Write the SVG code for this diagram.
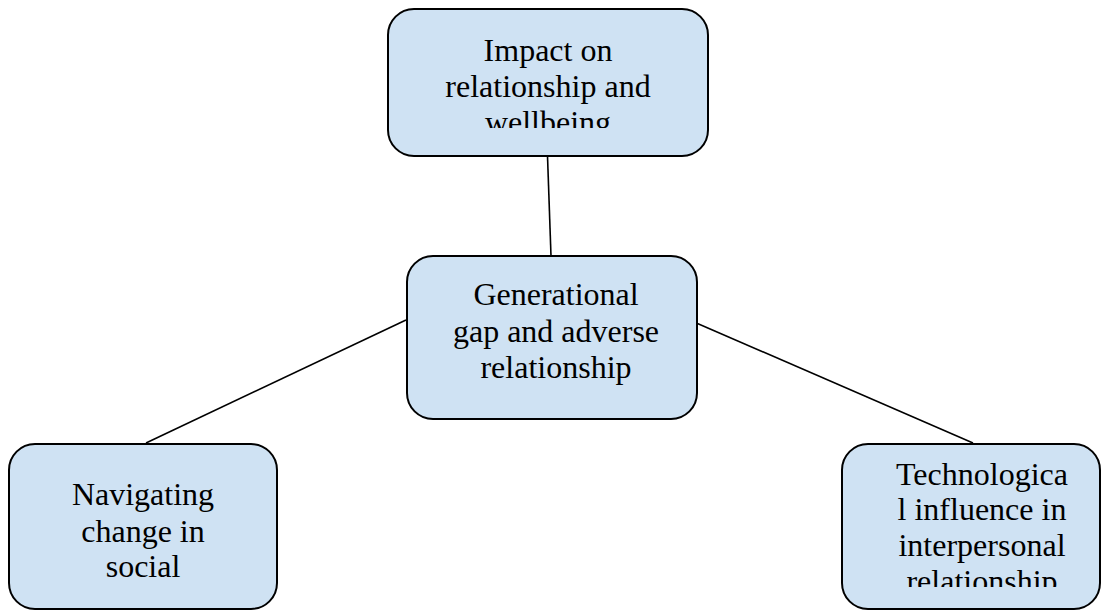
<svg xmlns="http://www.w3.org/2000/svg" width="1101" height="611" viewBox="0 0 1101 611">
<style>
.box{fill:#cfe2f3;stroke:#000;stroke-width:2}
.lbl{font-family:'Liberation Serif','Times New Roman',serif;font-size:32px;fill:#000;text-anchor:middle}
.conn{stroke:#000;stroke-width:1.6;fill:none}
</style>
<defs>
<clipPath id="clipTop"><rect x="388" y="9" width="320" height="119"/></clipPath>
<clipPath id="clipRight"><rect x="842" y="444" width="258" height="143"/></clipPath>
</defs>
<rect width="1101" height="611" fill="#fff"/>
<g id="connectors">
<line class="conn" x1="547.5" y1="156" x2="551" y2="256"/>
<line class="conn" x1="146" y1="443" x2="406" y2="320"/>
<line class="conn" x1="694" y1="322" x2="973" y2="443"/>
</g>
<g id="node-top">
<rect class="box" x="388" y="9" width="320" height="147" rx="26"/>
<g clip-path="url(#clipTop)">
<text class="lbl" font-family="Liberation Serif, serif" x="548" y="61">Impact on</text>
<text class="lbl" font-family="Liberation Serif, serif" x="548" y="97">relationship and</text>
<text class="lbl" font-family="Liberation Serif, serif" x="548" y="133">wellbeing</text>
</g>
</g>
<g id="node-center">
<rect class="box" x="407" y="256" width="290" height="163" rx="26"/>
<text class="lbl" font-family="Liberation Serif, serif" x="556" y="305">Generational</text>
<text class="lbl" font-family="Liberation Serif, serif" x="556" y="342">gap and adverse</text>
<text class="lbl" font-family="Liberation Serif, serif" x="556" y="378">relationship</text>
</g>
<g id="node-left">
<rect class="box" x="9" y="444" width="268" height="165" rx="26"/>
<text class="lbl" font-family="Liberation Serif, serif" x="143" y="505">Navigating</text>
<text class="lbl" font-family="Liberation Serif, serif" x="143" y="542">change in</text>
<text class="lbl" font-family="Liberation Serif, serif" x="143" y="577">social</text>
</g>
<g id="node-right">
<rect class="box" x="842" y="444" width="258" height="165" rx="26"/>
<g clip-path="url(#clipRight)">
<text class="lbl" font-family="Liberation Serif, serif" x="982" y="485">Technologica</text>
<text class="lbl" font-family="Liberation Serif, serif" x="982" y="520">l influence in</text>
<text class="lbl" font-family="Liberation Serif, serif" x="982" y="556">interpersonal</text>
<text class="lbl" font-family="Liberation Serif, serif" x="982" y="592">relationship</text>
</g>
</g>
</svg>
